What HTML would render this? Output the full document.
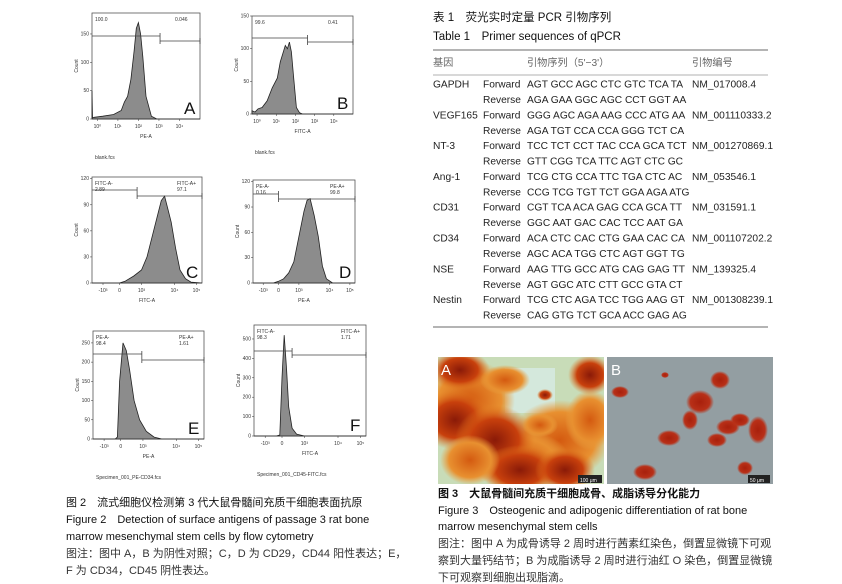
<!DOCTYPE html>
<html><head><meta charset="utf-8"><style>
html,body{margin:0;padding:0;background:#fff;}
svg{display:block;font-family:"Liberation Sans","Noto Sans CJK SC",sans-serif;}
.cap{font-size:11px;fill:#111;}
.note{font-size:11px;fill:#333;}
.tb{font-size:10.2px;fill:#222;}
.th{font-size:10.2px;fill:#666;}
.tk{font-size:5px;fill:#333;}
</style></head><body>
<svg id="root" width="842" height="584" viewBox="0 0 842 584" xmlns="http://www.w3.org/2000/svg">
<defs>
<radialGradient id="rd" cx="50%" cy="50%" r="50%"><stop offset="0" stop-color="#8a1a08"/><stop offset="0.6" stop-color="#c8400c"/><stop offset="1" stop-color="#e07a20" stop-opacity="0"/></radialGradient>
<radialGradient id="ro" cx="50%" cy="50%" r="50%"><stop offset="0" stop-color="#d45a10"/><stop offset="0.7" stop-color="#e89030"/><stop offset="1" stop-color="#e8a040" stop-opacity="0"/></radialGradient>
<radialGradient id="rb" cx="50%" cy="50%" r="50%"><stop offset="0" stop-color="#a8200c"/><stop offset="0.7" stop-color="#b83018"/><stop offset="1" stop-color="#b83018" stop-opacity="0"/></radialGradient>
<clipPath id="ca"><rect x="438" y="357" width="166" height="127"/></clipPath>
<clipPath id="cb"><rect x="607" y="357" width="166" height="127"/></clipPath>
</defs>
<g id="flow"></g>

<text class="cap" x="66" y="506">图 2　流式细胞仪检测第 3 代大鼠骨髓间充质干细胞表面抗原</text>
<text class="cap" x="66" y="523">Figure 2　Detection of surface antigens of passage 3 rat bone</text>
<text class="cap" x="66" y="540">marrow mesenchymal stem cells by flow cytometry</text>
<text class="note" x="66" y="557">图注：图中 A，B 为阴性对照；C，D 为 CD29，CD44 阳性表达；E，</text>
<text class="note" x="66" y="574">F 为 CD34，CD45 阴性表达。</text>

<g>
<text x="433" y="21" style="font-size:11.5px;fill:#111">表 1　荧光实时定量 PCR 引物序列</text>
<text x="433" y="40" style="font-size:11.5px;fill:#111">Table 1　Primer sequences of qPCR</text>
<line x1="433" y1="50" x2="768" y2="50" stroke="#888" stroke-width="1.2"/>
<text class="th" x="433" y="66">基因</text>
<text class="th" x="527" y="66">引物序列（5'−3'）</text>
<text class="th" x="692" y="66">引物编号</text>
<line x1="433" y1="75" x2="768" y2="75" stroke="#999" stroke-width="0.7"/>
<g id="rows"></g>
<line x1="433" y1="327" x2="768" y2="327" stroke="#888" stroke-width="1.2"/>
</g>

<g clip-path="url(#ca)">
<rect x="438" y="357" width="166" height="127" fill="#c8dcb8"/>
<rect x="505" y="368" width="50" height="45" fill="#d4e8dc"/>
<ellipse cx="470" cy="400" rx="45" ry="40" fill="url(#ro)"/>
<ellipse cx="560" cy="440" rx="50" ry="40" fill="url(#ro)"/>
<ellipse cx="520" cy="460" rx="50" ry="30" fill="url(#ro)"/>
<ellipse cx="460" cy="370" rx="30" ry="20" fill="url(#rd)"/>
<ellipse cx="455" cy="420" rx="35" ry="30" fill="url(#rd)"/>
<ellipse cx="495" cy="440" rx="40" ry="35" fill="url(#rd)"/>
<ellipse cx="520" cy="470" rx="40" ry="25" fill="url(#rd)"/>
<ellipse cx="565" cy="470" rx="30" ry="22" fill="url(#rd)"/>
<ellipse cx="590" cy="420" rx="25" ry="30" fill="url(#ro)"/>
<ellipse cx="590" cy="375" rx="22" ry="20" fill="url(#rd)"/>
<ellipse cx="505" cy="380" rx="25" ry="15" fill="url(#ro)"/>
<ellipse cx="540" cy="425" rx="18" ry="12" fill="url(#ro)"/>
<ellipse cx="470" cy="460" rx="30" ry="25" fill="url(#ro)"/>
<ellipse cx="545" cy="395" rx="8" ry="6" fill="url(#rd)"/>
<text x="441" y="375" style="font-size:15px;fill:#fff">A</text>
<rect x="578" y="475" width="24" height="8" fill="#222"/>
<text x="580" y="482" style="font-size:5px;fill:#fff">100 μm</text>
</g>
<g clip-path="url(#cb)">
<rect x="607" y="357" width="166" height="127" fill="#8e9aa6"/>
<rect x="607" y="357" width="166" height="127" fill="#a0a898" opacity="0.3"/>
<ellipse cx="700" cy="402" rx="14" ry="12" fill="url(#rb)"/>
<ellipse cx="720" cy="380" rx="10" ry="9" fill="url(#rb)"/>
<ellipse cx="728" cy="427" rx="12" ry="8" fill="url(#rb)"/>
<ellipse cx="740" cy="420" rx="10" ry="7" fill="url(#rb)"/>
<ellipse cx="717" cy="440" rx="10" ry="7" fill="url(#rb)"/>
<ellipse cx="669" cy="438" rx="12" ry="8" fill="url(#rb)"/>
<ellipse cx="758" cy="430" rx="10" ry="14" fill="url(#rb)"/>
<ellipse cx="645" cy="472" rx="12" ry="8" fill="url(#rb)"/>
<ellipse cx="620" cy="392" rx="9" ry="6" fill="url(#rb)"/>
<ellipse cx="745" cy="468" rx="8" ry="7" fill="url(#rb)"/>
<ellipse cx="690" cy="420" rx="8" ry="10" fill="url(#rb)"/>
<ellipse cx="665" cy="375" rx="4" ry="3" fill="url(#rb)"/>
<text x="611" y="375" style="font-size:15px;fill:#fff">B</text>
<rect x="748" y="475" width="22" height="8" fill="#222"/>
<text x="750" y="482" style="font-size:5px;fill:#fff">50 μm</text>
</g>

<text class="cap" x="438" y="497" style="font-weight:bold">图 3　大鼠骨髓间充质干细胞成骨、成脂诱导分化能力</text>
<text class="cap" x="438" y="514">Figure 3　Osteogenic and adipogenic differentiation of rat bone</text>
<text class="cap" x="438" y="530">marrow mesenchymal stem cells</text>
<text class="note" x="438" y="547">图注：图中 A 为成骨诱导 2 周时进行茜素红染色，倒置显微镜下可观</text>
<text class="note" x="438" y="564">察到大量钙结节；B 为成脂诱导 2 周时进行油红 O 染色，倒置显微镜</text>
<text class="note" x="438" y="581">下可观察到细胞出现脂滴。</text>
</svg>
<script>
const xsA=[0,0.005,0.02,0.1,0.2,0.27,0.3,0.33,0.36,0.39,0.41,0.43,0.45,0.47,0.5,0.55,0.6,1];
const ysA=[50,2,3,5,8,15,30,40,70,120,160,170,150,110,40,5,0,0];
const xsB=[0,0.03,0.06,0.1,0.15,0.2,0.25,0.28,0.3,0.33,0.35,0.37,0.39,0.41,0.44,0.47,0.5,1];
const ysB=[5,3,8,10,20,40,55,80,90,105,100,110,95,60,10,2,0,0];
const xsC=[0,0.25,0.3,0.38,0.45,0.5,0.55,0.6,0.63,0.66,0.69,0.72,0.76,0.8,0.85,0.9,1];
const ysC=[0,0,2,8,15,30,55,80,95,100,85,70,40,15,5,1,0];
const xsD=[0,0.2,0.25,0.3,0.35,0.4,0.45,0.5,0.53,0.56,0.6,0.64,0.68,0.72,0.78,1];
const ysD=[0,0,2,5,12,25,55,85,98,100,80,55,20,5,0,0];
const xsE=[0,0.2,0.22,0.24,0.27,0.3,0.33,0.37,0.42,0.48,0.55,0.62,1];
const ysE=[0,0,5,150,250,230,180,100,50,20,5,0,0];
const xsF=[0,0.2,0.23,0.25,0.27,0.29,0.31,0.34,0.38,0.45,1];
const ysF=[0,0,5,300,520,350,150,40,10,0,0];
const yTicksA=[0,50,100,150], yTicksB=[0,50,100,150], yTicksC=[0,30,60,90,120], yTicksD=[0,30,60,90,120];
const yTicksE=[0,50,100,150,200,250], yTicksF=[0,100,200,300,400,500];
const gateLabels={A:['100.0','0.046'],B:['99.6','0.41'],C:['FITC-A-\n2.89','FITC-A+\n97.1'],D:['PE-A-\n0.16','PE-A+\n99.8'],E:['PE-A-\n98.4','PE-A+\n1.61'],F:['FITC-A-\n98.3','FITC-A+\n1.71']};

const NS='http://www.w3.org/2000/svg';
const flow=document.getElementById('flow');
function mk(tag,attrs,parent){const e=document.createElementNS(NS,tag);for(const k in attrs)e.setAttribute(k,attrs[k]);(parent||flow).appendChild(e);return e;}
function panel(cfg){
  const {id,x0,y0,x1,y1,ymax,xs,ys,ticks,xlab,xticks,file,gate,gy1,gy2}=cfg;
  const g=mk('g',{});
  
  
  const sx=f=>x0+f*(x1-x0), sy=v=>y1-v/ymax*(y1-y0);
  const box=mk('rect',{x:x0,y:y0,width:x1-x0,height:y1-y0,fill:'none',stroke:'#555','stroke-width':0.8},g);
  
  
  let d='M'+sx(xs[0])+','+sy(0);
  for(let i=0;i<xs.length;i++) d+=' L'+sx(xs[i]).toFixed(1)+','+sy(ys[i]).toFixed(1);
  d+=' L'+sx(xs[xs.length-1])+','+sy(0)+'Z';
  const p=mk('path',{d:d,fill:'#8c8c8c',stroke:'#222','stroke-width':0.8},g);
  
  
  ticks.forEach(t=>{
    mk('line',{x1:x0-2,x2:x0,y1:sy(t),y2:sy(t),stroke:'#333','stroke-width':0.5},g);
    const tt=mk('text',{x:x0-3,y:sy(t)+1.5,'text-anchor':'end',class:'tk'},g);tt.textContent=t;
  });
  xticks.forEach(([f,l])=>{
    mk('line',{x1:sx(f),x2:sx(f),y1:y1,y2:y1+2,stroke:'#333','stroke-width':0.5},g);
    const tt=mk('text',{x:sx(f),y:y1+9,'text-anchor':'middle',class:'tk'},g);tt.textContent=l;
  });
  const yl=mk('text',{x:x0-14,y:(y0+y1)/2,'text-anchor':'middle',class:'tk',transform:`rotate(-90 ${x0-14} ${(y0+y1)/2})`},g);yl.textContent='Count';
  const xl=mk('text',{x:(x0+x1)/2,y:y1+19,'text-anchor':'middle',class:'tk'},g);xl.textContent=xlab;
  const fl=mk('text',{x:x0+3,y:y1+40,class:'tk'},g);fl.textContent=file;
  mk('path',{d:`M${x0} ${gy1}H${sx(gate)}M${sx(gate)} ${gy1-3}V${gy1+3}M${sx(gate)} ${gy2}H${x1}M${sx(gate)} ${gy2-3}V${gy2+3}M${x1} ${gy2-3}V${gy2+3}`,stroke:'#444','stroke-width':0.8,fill:'none'},g);
  const [l1,l2]=gateLabels[id];
  l1.split('\n').forEach((s,i)=>{const t=mk('text',{x:x0+3,y:y0+8+i*6,class:'tk'},g);t.textContent=s;});
  l2.split('\n').forEach((s,i)=>{const t=mk('text',{x:x1-25,y:y0+8+i*6,class:'tk'},g);t.textContent=s;});
  const L=mk('text',{x:x1-16,y:y1-5,style:'font-size:17px;fill:#111'},g);L.textContent=id;
  
  
}
const logT=[[0.05,'10⁰'],[0.24,'10¹'],[0.43,'10²'],[0.62,'10³'],[0.81,'10⁴']];
const bT=[[0.1,'-10³'],[0.25,'0'],[0.45,'10³'],[0.75,'10⁴'],[0.95,'10⁵']];
panel({id:'A',x0:92,y0:13,x1:200,y1:119,ymax:187,xs:xsA,ys:ysA,ticks:yTicksA,xlab:'PE-A',xticks:logT,file:'blank.fcs',gate:0.63,gy1:36,gy2:41});
panel({id:'B',x0:252,y0:16,x1:353,y1:114,ymax:150,xs:xsB,ys:ysB,ticks:yTicksB,xlab:'FITC-A',xticks:logT,file:'blank.fcs',gate:0.55,gy1:38,gy2:42});
panel({id:'C',x0:92,y0:177,x1:202,y1:283,ymax:122,xs:xsC,ys:ysC,ticks:yTicksC,xlab:'FITC-A',xticks:bT,file:'',gate:0.41,gy1:190,gy2:196});
panel({id:'D',x0:253,y0:180,x1:355,y1:283,ymax:122,xs:xsD,ys:ysD,ticks:yTicksD,xlab:'PE-A',xticks:bT,file:'',gate:0.25,gy1:194,gy2:199});
panel({id:'E',x0:93,y0:331,x1:204,y1:439,ymax:281,xs:xsE,ys:ysE,ticks:yTicksE,xlab:'PE-A',xticks:bT,file:'Specimen_001_PE-CD34.fcs',gate:0.44,gy1:354,gy2:360});
panel({id:'F',x0:254,y0:325,x1:366,y1:436,ymax:572,xs:xsF,ys:ysF,ticks:yTicksF,xlab:'FITC-A',xticks:bT,file:'Specimen_001_CD45-FITC.fcs',gate:0.34,gy1:351,gy2:355});

const genes=['GAPDH','VEGF165','NT-3','Ang-1','CD31','CD34','NSE','Nestin'];
const fwd=['AGT GCC AGC CTC GTC TCA TA','GGG AGC AGA AAG CCC ATG AA','TCC TCT CCT TAC CCA GCA TCT','TCG CTG CCA TTC TGA CTC AC','CGT TCA ACA GAG CCA GCA TT','ACA CTC CAC CTG GAA CAC CA','AAG TTG GCC ATG CAG GAG TT','TCG CTC AGA TCC TGG AAG GT'];
const rev=['AGA GAA GGC AGC CCT GGT AA','AGA TGT CCA CCA GGG TCT CA','GTT CGG TCA TTC AGT CTC GC','CCG TCG TGT TCT GGA AGA ATG','GGC AAT GAC CAC TCC AAT GA','AGC ACA TGG CTC AGT GGT TG','AGT GGC ATC CTT GCC GTA CT','CAG GTG TCT GCA ACC GAG AG'];
const acc=['NM_017008.4','NM_001110333.2','NM_001270869.1','NM_053546.1','NM_031591.1','NM_001107202.2','NM_139325.4','NM_001308239.1'];
const rows=document.getElementById('rows');
genes.forEach((g,i)=>{
  const y=87.5+i*30.8;
  const r=document.createElementNS(NS,'g');rows.appendChild(r);
  
  
  const t=(x,yy,s)=>{const e=document.createElementNS(NS,'text');e.setAttribute('x',x);e.setAttribute('y',yy);e.setAttribute('class','tb');e.textContent=s;r.appendChild(e);};
  t(433,y,g);t(483,y,'Forward');t(527,y,fwd[i]);t(692,y,acc[i]);
  t(483,y+15.5,'Reverse');t(527,y+15.5,rev[i]);
});
</script>
</body></html>
